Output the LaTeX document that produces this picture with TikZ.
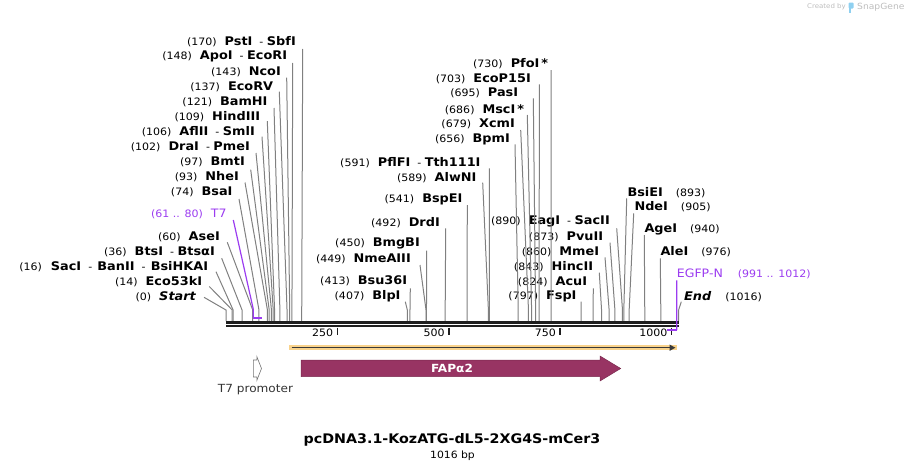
\documentclass[tikz,border=0pt]{standalone}
\usepackage{fontspec}
\setmainfont{DejaVu Sans}[FakeStretch=1.08]
\definecolor{CutGray}{HTML}{808080}
\definecolor{SeqBlack}{HTML}{1E1E1E}
\definecolor{FeatPurple}{HTML}{9B3CF0}
\definecolor{FapRed}{HTML}{983463}
\definecolor{OrfGlow}{HTML}{F9D38C}
\definecolor{OrfDark}{HTML}{3A3A3A}
\definecolor{MarkGray}{HTML}{BDBDBD}
\definecolor{SnapBlue}{HTML}{8FD0F0}
\usepackage{tikz}
\usetikzlibrary{arrows.meta}
\newcommand{\enz}[1]{{\fontsize{11.9}{13}\selectfont\bfseries #1}}

\begin{document}
\begin{tikzpicture}[x=1pt,y=-1pt,
        lab/.style={inner sep=0pt,font=\fontsize{10.2}{12}\selectfont},
        cut/.style={CutGray,line width=1pt},
        feat/.style={FeatPurple,line width=1.8pt},
        bb/.style={SeqBlack,line width=2.7pt},
        tick/.style={SeqBlack,line width=1.6pt}]
  \useasboundingbox (0,0) rectangle (906,471);

  % cut sites on the sequence
  \foreach \p in {0,14,16,36,60,74,93,97,102,106,109,121,137,143,148,170,
                  407,413,449,450,492,541,589,591,656,679,686,695,703,730,
                  797,824,843,860,873,890,893,905,940,976,1016}{
    \coordinate (c\p) at ({226+0.4455*\p},321);
  }
  \coordinate (seqL) at (226,322.3);
  \coordinate (seqR) at (679,322.3);

  % left labels
  \node[lab,anchor=east] (PstI)    at (296,42)    {(170)\hspace{8pt}\enz{PstI}\ \ -\ \enz{SbfI}};
  \node[lab,anchor=east] (ApoI)    at (287.3,56.7){(148)\hspace{8pt}\enz{ApoI}\ \ -\ \enz{EcoRI}};
  \node[lab,anchor=east] (NcoI)    at (281,71.7)  {(143)\hspace{8pt}\enz{NcoI}};
  \node[lab,anchor=east] (EcoRV)   at (273.3,86.7){(137)\hspace{8pt}\enz{EcoRV}};
  \node[lab,anchor=east] (BamHI)   at (267.7,101.5){(121)\hspace{8pt}\enz{BamHI}};
  \node[lab,anchor=east] (HindIII) at (260.3,116.7){(109)\hspace{8pt}\enz{HindIII}};
  \node[lab,anchor=east] (AflII)   at (255,131.7) {(106)\hspace{8pt}\enz{AflII}\ \ -\ \enz{SmlI}};
  \node[lab,anchor=east] (DraI)    at (250,146.7) {(102)\hspace{8pt}\enz{DraI}\ \ -\ \enz{PmeI}};
  \node[lab,anchor=east] (BmtI)    at (245,161.7) {(97)\hspace{8pt}\enz{BmtI}};
  \node[lab,anchor=east] (NheI)    at (239,176.5) {(93)\hspace{8pt}\enz{NheI}};
  \node[lab,anchor=east] (BsaI)    at (232.7,192.3){(74)\hspace{8pt}\enz{BsaI}};
  \node[lab,anchor=east,text=FeatPurple] (T7) at (226.7,214.3)
       {(61 .. 80)\hspace{8pt}{\fontsize{11.6}{13}\selectfont T7}};
  \node[lab,anchor=east] (AseI)    at (220,236.7) {(60)\hspace{8pt}\enz{AseI}};
  \node[lab,anchor=east] (BtsI)    at (215,251.7) {(36)\hspace{8pt}\enz{BtsI}\ \ -\ \enz{BtsαI}};
  \node[lab,anchor=east] (SacI)    at (208.3,266.7){(16)\hspace{9pt}\enz{SacI}\ \ -\ \,\enz{BanII}\ \ -\ \,\enz{BsiHKAI}};
  \node[lab,anchor=east] (Eco53kI) at (202.3,281.5){(14)\hspace{8pt}\enz{Eco53kI}};
  \node[lab,anchor=east] (Start)   at (196,296.7) {(0)\hspace{8pt}\enz{\itshape Start}};

  % middle labels
  \node[lab,anchor=east] (PfoI)    at (548.3,63.3) {(730)\hspace{8pt}\enz{PfoI\,*}};
  \node[lab,anchor=east] (EcoP15I) at (531,79.3)   {(703)\hspace{8pt}\enz{EcoP15I}};
  \node[lab,anchor=east] (PasI)    at (518.3,93.3) {(695)\hspace{8pt}\enz{PasI}};
  \node[lab,anchor=east] (MscI)    at (524.3,109.3){(686)\hspace{8pt}\enz{MscI\,*}};
  \node[lab,anchor=east] (XcmI)    at (515,124)    {(679)\hspace{8pt}\enz{XcmI}};
  \node[lab,anchor=east] (BpmI)    at (510,139.3)  {(656)\hspace{8pt}\enz{BpmI}};
  \node[lab,anchor=east] (PflFI)   at (480.7,162.7){(591)\hspace{8pt}\enz{PflFI}\ \ -\ \enz{Tth111I}};
  \node[lab,anchor=east] (AlwNI)   at (476.7,177.3){(589)\hspace{8pt}\enz{AlwNI}};
  \node[lab,anchor=east] (BspEI)   at (462.7,199)  {(541)\hspace{8pt}\enz{BspEI}};
  \node[lab,anchor=east] (DrdI)    at (440,222.3)  {(492)\hspace{8pt}\enz{DrdI}};
  \node[lab,anchor=east] (BmgBI)   at (420,243.3)  {(450)\hspace{8pt}\enz{BmgBI}};
  \node[lab,anchor=east] (NmeAIII) at (411,259)    {(449)\hspace{8pt}\enz{NmeAIII}};
  \node[lab,anchor=east] (Bsu36I)  at (407.3,280.7){(413)\hspace{8pt}\enz{Bsu36I}};
  \node[lab,anchor=east] (BlpI)    at (400.7,296.7){(407)\hspace{8pt}\enz{BlpI}};

  \node[lab,anchor=east] (EagI)    at (610,221.7)  {(890)\hspace{8pt}\enz{EagI}\ \ -\ \enz{SacII}};
  \node[lab,anchor=east] (PvuII)   at (603.3,236.7){(873)\hspace{8pt}\enz{PvuII}};
  \node[lab,anchor=east] (MmeI)    at (599.3,251.7){(860)\hspace{8pt}\enz{MmeI}};
  \node[lab,anchor=east] (HincII)  at (593.3,266.7){(843)\hspace{8pt}\enz{HincII}};
  \node[lab,anchor=east] (AcuI)    at (587.3,281.7){(824)\hspace{8pt}\enz{AcuI}};
  \node[lab,anchor=east] (FspI)    at (576.7,296.7){(797)\hspace{8pt}\enz{FspI}};

  % right labels
  \node[lab,anchor=west] (BsiEI)   at (627.3,192.3){\enz{BsiEI}\hspace{13pt}(893)};
  \node[lab,anchor=west] (NdeI)    at (634.3,206.7){\enz{NdeI}\hspace{13pt}(905)};
  \node[lab,anchor=west] (AgeI)    at (644.3,229.3){\enz{AgeI}\hspace{13pt}(940)};
  \node[lab,anchor=west] (AleI)    at (660.3,251.7){\enz{AleI}\hspace{13pt}(976)};
  \node[lab,anchor=west,text=FeatPurple] (EGFP) at (676.7,274.3)
       {{\fontsize{11.6}{13}\selectfont EGFP-N}\hspace{15pt}(991 .. 1012)};
  \node[lab,anchor=west] (End)     at (684,296.7)  {\enz{\itshape End}\hspace{14pt}(1016)};

  \foreach \n/\p/\dx/\dy in {PstI/170/6.7/7, ApoI/148/5.4/6.3, NcoI/143/5.7/6,
      EcoRV/137/6/5, BamHI/121/6.3/6.5, HindIII/109/7/4.5, AflII/106/7/5,
      DraI/102/6/6.3, BmtI/97/5.7/8, NheI/93/6/6, BsaI/74/6.3/6.7,
      AseI/60/7.3/5.6, BtsI/36/6.7/6.6, SacI/16/7.7/5, Eco53kI/14/7/5,
      Start/0/8/0.6, PfoI/730/2.7/6.7, EcoP15I/703/8.3/5, PasI/695/15/5,
      MscI/686/3/5.7, XcmI/679/5.7/6, BpmI/656/5/5, PflFI/591/8.6/5.6,
      AlwNI/589/6/5.4, BspEI/541/4.6/6, DrdI/492/5.7/6, BmgBI/450/6.7/7.4,
      NmeAIII/449/9/6, Bsu36I/413/3/7.6, BlpI/407/4.6/5, EagI/890/6.7/6.6,
      PvuII/873/6.7/6, MmeI/860/5.7/5.6, HincII/843/6/6, AcuI/824/6/6.6,
      FspI/797/4.3/5}{
    \draw[cut] ([shift={(\dx,\dy)}]\n.east) -- ([shift={(0,-11)}]c\p) -- (c\p);
  }
  \foreach \n/\p/\dx/\dy in {BsiEI/893/-0.6/6, NdeI/905/-0.6/6.6,
      AgeI/940/0/5.7, AleI/976/0/6.6, End/1016/-2.7/5}{
    \draw[cut] ([shift={(\dx,\dy)}]\n.west) -- ([shift={(0,-11)}]c\p) -- (c\p);
  }

  % sequence
  \draw[bb] (seqL) -- (seqR);
  \draw[bb] ([shift={(0,3.8)}]seqL) -- ([shift={(0,3.8)}]seqR);
  \foreach \t in {250,500,750,1000}{
    \draw[tick] ({226+0.4455*\t},327.5) -- ({226+0.4455*\t},334.5);
    \node[lab,anchor=east] (tk\t) at ({222+0.4455*\t},333) {\t};
  }

  % primer and T7 marks
  \coordinate (t7L) at ({226+0.4455*61},317.7);
  \coordinate (t7R) at ({226+0.4455*80},317.7);
  \draw[feat] (t7L) -- (t7R);
  \draw[FeatPurple,line width=1.2pt] ([shift={(6.6,5.7)}]T7.east)
       -- ([shift={(0,-9)}]t7L) -- (t7L);
  \coordinate (e991) at ({226+0.4455*991},330);
  \coordinate (e1012) at ({226+0.4455*1012},330);
  \draw[FeatPurple,line width=1.2pt] ([shift={(0,6)}]EGFP.west) -- (e1012);
  \draw[feat] (e1012) -- (e991);

  % features
  \coordinate (orfL) at (289,347.7);
  \coordinate (orfR) at (677,347.7);
  \draw[OrfGlow,line width=5.5pt] (orfL) -- (orfR);
  \draw[OrfDark,line width=1.5pt,-{Triangle[length=6pt,width=6pt]}]
       ([shift={(2.5,0)}]orfL) -- ([shift={(-1.5,0)}]orfR);

  \draw[fill=white,draw=black!55,line width=0.6pt]
       (253.3,360) -- (256.8,360) -- (256.8,356.5) -- (261.5,368.5)
       -- (256.8,380.5) -- (256.8,377) -- (253.3,377) -- cycle;
  \node[inner sep=0pt,font=\fontsize{11.2}{13}\selectfont,text=black!80]
       (t7prom) at (255.5,390) {T7 promoter};

  \fill[FapRed,draw=FapRed!80!black,line width=0.5pt]
       (301,360) -- (600,360) -- (600,356) -- (620.7,368.5)
       -- (600,381) -- (600,376.7) -- (301,376.7) -- cycle;
  \node[inner sep=0pt,font=\fontsize{11.2}{13}\selectfont\bfseries,text=white]
       (fap) at (452,368.5) {FAPα2};

  % title
  \node[inner sep=0pt,font=\fontsize{13.2}{15}\selectfont\bfseries]
       (title) at (452,440) {pcDNA3.1-KozATG-dL5-2XG4S-mCer3};
  \node[inner sep=0pt,font=\fontsize{10}{12}\selectfont]
       (size) at (452.5,455.5) {1016 bp};

  % watermark
  \node[inner sep=0pt,anchor=east,font=\fontsize{6.5}{8}\selectfont,text=MarkGray]
       (created) at (846,7) {Created by};
  \fill[SnapBlue,rounded corners=1pt] (848.5,2.5) rectangle (853.5,8.5);
  \fill[SnapBlue] (848.5,8) rectangle (850.5,12.5);
  \node[inner sep=0pt,anchor=west,font=\fontsize{8.5}{10}\selectfont,text=MarkGray]
       (snap) at (857,7) {SnapGene};
\end{tikzpicture}
\end{document}
